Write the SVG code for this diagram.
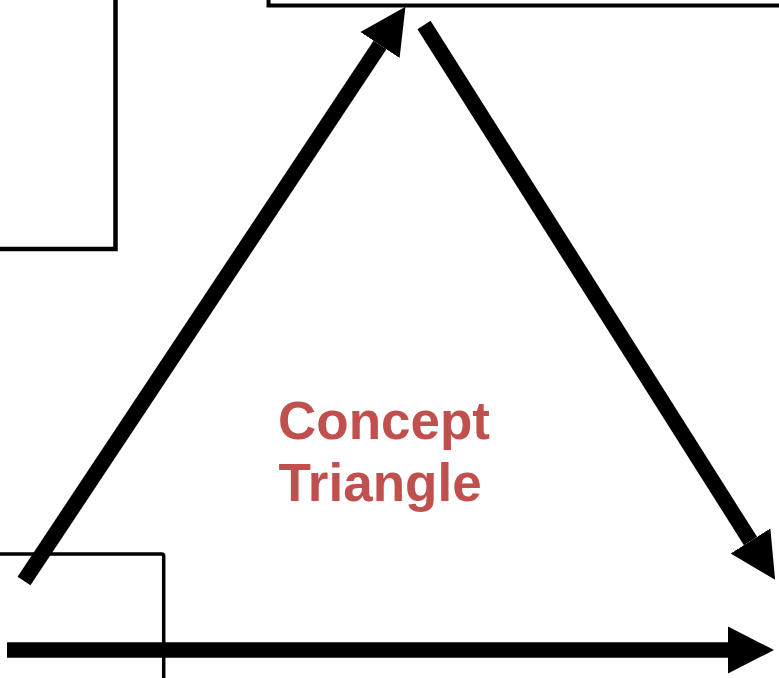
<svg xmlns="http://www.w3.org/2000/svg" width="779" height="678" viewBox="0 0 779 678">
  <style>
    .box { fill: none; stroke: #000; }
    .arrow { stroke: #000; stroke-width: 15.5; fill: none; marker-end: url(#head); }
    .label { font-family: "Liberation Sans", Arial, sans-serif; font-weight: bold; font-size: 53px; fill: #C0504D; text-anchor: middle; }
  </style>
  <defs>
    <marker id="head" markerUnits="userSpaceOnUse" viewBox="0 -25 48 50" refX="0" refY="0" markerWidth="48" markerHeight="50" orient="auto">
      <path d="M0,-23.5 L46,0 L0,23.5 Z" fill="#000"/>
    </marker>
  </defs>
  <g id="box-top-left">
    <rect class="box" x="-10" y="-10" width="125.5" height="259" stroke-width="4.5"/>
  </g>
  <g id="box-top">
    <rect class="box" x="268.5" y="-10" width="530" height="15.5" stroke-width="4"/>
  </g>
  <g id="box-bottom-left">
    <rect class="box" x="-10" y="554" width="173.7" height="140" rx="2" stroke-width="3.5"/>
  </g>
  <g id="connectors">
    <line class="arrow" x1="24" y1="581" x2="380" y2="45"/>
    <line class="arrow" x1="424" y1="25" x2="750.5" y2="541"/>
    <line class="arrow" x1="7" y1="650" x2="728" y2="650"/>
  </g>
  <g id="label">
    <text class="label" x="384" y="439">Concept</text>
    <text class="label" x="380" y="501">Triangle</text>
  </g>
</svg>
